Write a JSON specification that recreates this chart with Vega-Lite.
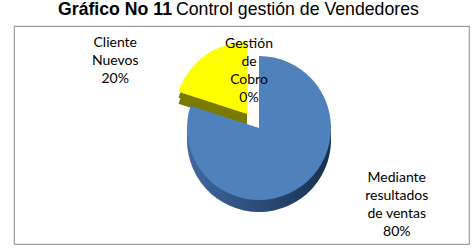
{
  "$schema": "https://vega.github.io/schema/vega-lite/v6.json",
  "width": 455,
  "height": 218,
  "autosize": {"type": "none"},
  "padding": {"left": 14, "top": 26, "right": 5, "bottom": 6},
  "background": "white",
  "view": {"stroke": "#9E9E9E", "strokeWidth": 1.2, "fill": "white"},
  "title": {
    "text": "Gráfico No 11",
    "subtitle": "\u200b\u00a0\u00a0\u00a0\u00a0\u00a0\u00a0\u00a0\u00a0\u00a0\u00a0\u00a0\u00a0\u00a0\u00a0\u00a0\u00a0\u00a0\u00a0\u00a0\u00a0\u00a0\u00a0\u00a0\u00a0Control gestión de Vendedores",
    "anchor": "start",
    "frame": "group",
    "dx": 44,
    "dy": 29,
    "offset": 0,
    "font": "Liberation Sans",
    "fontSize": 17.7,
    "fontWeight": "bold",
    "color": "#000000",
    "subtitleFont": "Liberation Sans",
    "subtitleFontSize": 17.7,
    "subtitleFontWeight": "normal",
    "subtitleColor": "#000000",
    "subtitlePadding": -18
  },
  "data": {
    "values": [
      {"cat": "Mediante resultados de ventas", "label": "Mediante\nresultados\nde ventas\n80%", "value": 80, "ord": 1},
      {"cat": "Cliente Nuevos", "label": "Cliente\nNuevos\n20%", "value": 20, "ord": 2},
      {"cat": "Gestión de Cobro", "label": "Gestión\nde\nCobro\n0%", "value": 0, "ord": 3}
    ]
  },
  "transform": [
    {"stack": "value", "groupby": [], "sort": [{"field": "ord", "order": "ascending"}], "as": ["v0", "v1"]}
  ],
  "layer": [
    {
      "transform": [{"filter": "datum.ord == 2"}],
      "mark": {"type": "arc", "outerRadius": 72, "xOffset": 5.5, "yOffset": -9, "fill": "#7A7A00"},
      "encoding": {
        "theta": {"field": "v0", "type": "quantitative", "scale": {"domain": [0, 100]}},
        "theta2": {"field": "v1"}
      }
    },
    {
      "transform": [{"filter": "datum.ord == 2"}],
      "mark": {"type": "arc", "outerRadius": 72, "xOffset": 5.5, "yOffset": -15, "fill": "#7A7A00"},
      "encoding": {
        "theta": {"field": "v0", "type": "quantitative", "scale": {"domain": [0, 100]}},
        "theta2": {"field": "v1"}
      }
    },
    {
      "transform": [{"filter": "datum.ord == 2"}],
      "mark": {"type": "arc", "outerRadius": 72, "xOffset": 5.5, "yOffset": -21, "fill": "#FFFF00"},
      "encoding": {
        "theta": {"field": "v0", "type": "quantitative", "scale": {"domain": [0, 100]}},
        "theta2": {"field": "v1"}
      }
    },
    {
      "transform": [{"filter": "datum.ord == 1"}],
      "mark": {"type": "arc", "outerRadius": 72, "xOffset": 17.5, "yOffset": 5,
        "fill": {"gradient": "linear", "x1": 0, "y1": 0, "x2": 1, "y2": 0,
          "stops": [{"offset": 0, "color": "#41699F"}, {"offset": 0.5, "color": "#2B4B78"}, {"offset": 1, "color": "#1A2F4F"}]}},
      "encoding": {
        "theta": {"field": "v0", "type": "quantitative", "scale": {"domain": [0, 100]}},
        "theta2": {"field": "v1"}
      }
    },
    {
      "transform": [{"filter": "datum.ord == 1"}],
      "mark": {"type": "arc", "outerRadius": 72, "xOffset": 17.5, "yOffset": -1,
        "fill": {"gradient": "linear", "x1": 0, "y1": 0, "x2": 1, "y2": 0,
          "stops": [{"offset": 0, "color": "#41699F"}, {"offset": 0.5, "color": "#2B4B78"}, {"offset": 1, "color": "#1A2F4F"}]}},
      "encoding": {
        "theta": {"field": "v0", "type": "quantitative", "scale": {"domain": [0, 100]}},
        "theta2": {"field": "v1"}
      }
    },
    {
      "transform": [{"filter": "datum.ord == 1"}],
      "mark": {"type": "arc", "outerRadius": 72, "xOffset": 17.5, "yOffset": -7, "fill": "#4F81BD"},
      "encoding": {
        "theta": {"field": "v0", "type": "quantitative", "scale": {"domain": [0, 100]}},
        "theta2": {"field": "v1"}
      }
    },
    {
      "mark": {"type": "text", "radius": 100, "xOffset": 17.5, "yOffset": -7, "dx": 79, "dy": -31,
        "font": "Lato", "fontSize": 14, "lineHeight": 18, "lineBreak": "\n", "align": "center", "baseline": "middle", "color": "#000000"},
      "encoding": {
        "theta": {"field": "value", "type": "quantitative", "stack": true, "scale": {"domain": [0, 100]}},
        "order": {"field": "ord", "type": "quantitative"},
        "text": {"condition": {"test": "datum.ord == 1", "field": "label"}, "value": ""}
      }
    },
    {
      "mark": {"type": "text", "radius": 100, "xOffset": 17.5, "yOffset": -7, "dx": -85, "dy": -4,
        "font": "Lato", "fontSize": 14, "lineHeight": 18, "lineBreak": "\n", "align": "center", "baseline": "middle", "color": "#000000"},
      "encoding": {
        "theta": {"field": "value", "type": "quantitative", "stack": true, "scale": {"domain": [0, 100]}},
        "order": {"field": "ord", "type": "quantitative"},
        "text": {"condition": {"test": "datum.ord == 2", "field": "label"}, "value": ""}
      }
    },
    {
      "mark": {"type": "text", "radius": 57, "xOffset": 17.5, "yOffset": -7, "dx": -10, "dy": -27,
        "font": "Lato", "fontSize": 14, "lineHeight": 18, "lineBreak": "\n", "align": "center", "baseline": "middle", "color": "#000000"},
      "encoding": {
        "theta": {"field": "value", "type": "quantitative", "stack": true, "scale": {"domain": [0, 100]}},
        "order": {"field": "ord", "type": "quantitative"},
        "text": {"condition": {"test": "datum.ord == 3", "field": "label"}, "value": ""}
      }
    }
  ]
}
